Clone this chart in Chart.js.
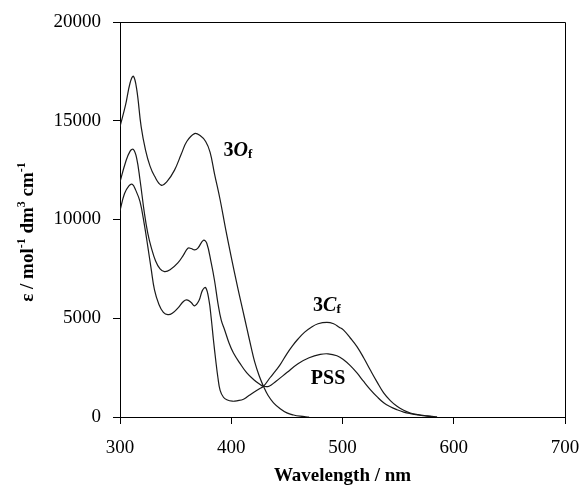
<!DOCTYPE html>
<html>
<head>
<meta charset="utf-8">
<script src="https://cdn.jsdelivr.net/npm/chart.js@4/dist/chart.umd.min.js"></script>
<style>
  body { margin: 0; background: #fff; }
  #wrap { width: 579px; height: 485px; }
</style>
</head>
<body>
<div id="wrap"><canvas id="spectra" width="579" height="485"></canvas></div>
<script>
// === DATA ===
const xTicks = [300, 400, 500, 600, 700];
const yTicks = [0, 5000, 10000, 15000, 20000];

// 3Of
const wl3Of = [300, 305, 309, 312, 315, 319, 323, 327, 331, 337, 342, 349, 355, 360, 367, 372, 377, 381, 385, 390, 395, 400, 406, 410, 414, 418, 421, 425, 429, 433, 438, 444, 450, 456, 462, 470];
const eps3Of = [14700, 15800, 16900, 17250, 16600, 14700, 13500, 12700, 12200, 11740, 11900, 12500, 13300, 13950, 14350, 14250, 13950, 13400, 12300, 11000, 9500, 8100, 6500, 5500, 4500, 3500, 2800, 2100, 1550, 1100, 720, 420, 210, 100, 40, 0];

// PSS
const wlPSS = [300, 305, 309, 312, 315, 318, 322, 325, 328, 332, 336, 340, 345, 352, 357, 361, 364, 367, 370, 375, 378, 382, 385, 388, 391, 394, 398, 402, 408, 414, 420, 425, 429, 434, 440, 450, 460, 470, 480, 487, 495, 501, 507, 513, 519, 525, 531, 537, 543, 549, 555, 561, 568, 576, 585];
const epsPSS = [11900, 12900, 13450, 13550, 13100, 12000, 10300, 9300, 8600, 7900, 7500, 7360, 7450, 7800, 8200, 8545, 8530, 8460, 8550, 8950, 8800, 7800, 6900, 5770, 4900, 4420, 3750, 3240, 2700, 2230, 1900, 1680, 1556, 1560, 1800, 2250, 2700, 3000, 3170, 3200, 3100, 2900, 2600, 2230, 1800, 1390, 1030, 720, 520, 370, 250, 170, 100, 40, 0];

// 3Cf
const wl3Cf = [300, 304, 308, 311, 314, 318, 322, 325, 328, 331, 335, 339, 343, 347, 352, 357, 360, 364, 367, 371, 374, 377, 380, 382, 384, 386, 388, 390, 393, 396, 401, 406, 411, 415, 420, 425, 429, 435, 440, 444, 450, 455, 460, 466, 472, 478, 486, 492, 497, 501, 507, 513, 519, 525, 531, 537, 543, 549, 555, 561, 568, 576, 585];
const eps3Cf = [10450, 11300, 11700, 11780, 11500, 10900, 9700, 8630, 7500, 6440, 5700, 5300, 5180, 5250, 5515, 5850, 5930, 5800, 5630, 5900, 6400, 6550, 5900, 5000, 3900, 2900, 2000, 1350, 1000, 870, 800, 830, 900, 1050, 1240, 1420, 1556, 2000, 2350, 2650, 3200, 3600, 3950, 4300, 4550, 4720, 4790, 4720, 4550, 4400, 4000, 3560, 3000, 2380, 1780, 1220, 830, 540, 340, 200, 120, 60, 0];

// curve labels: [wavelength, epsilon] of the text centre
const labelAt3Of = [406, 13500];
const labelAt3Cf = [486, 5650];
const labelAtPSS = [487, 1950];

const toPoints = (xs, ys) => xs.map((v, i) => ({ x: v, y: ys[i] }));

// texto com partes normais / sobrescritas / subscritas
function richWidth(ctx, parts) {
  let w = 0;
  parts.forEach(p => { ctx.font = p.font; w += ctx.measureText(p.t).width; });
  return w;
}
function drawRich(ctx, parts, cx, cy) {
  let x = cx - richWidth(ctx, parts) / 2;
  parts.forEach(p => {
    ctx.font = p.font;
    ctx.fillText(p.t, x, cy + (p.dy || 0));
    x += ctx.measureText(p.t).width;
  });
}

const serif = '"Liberation Serif", "Times New Roman", serif';

const decorPlugin = {
  id: 'decor',
  afterDraw(chart) {
    const { ctx, chartArea: a, scales: { x, y } } = chart;
    ctx.save();
    // moldura superior e direita
    ctx.strokeStyle = '#000';
    ctx.lineWidth = 1;
    ctx.beginPath();
    ctx.moveTo(a.left, Math.round(a.top) + 0.5);
    ctx.lineTo(Math.round(a.right) + 0.5, Math.round(a.top) + 0.5);
    ctx.lineTo(Math.round(a.right) + 0.5, a.bottom);
    ctx.stroke();

    ctx.fillStyle = '#000';
    ctx.textBaseline = 'middle';
    const b20 = 'bold 20px ' + serif;
    const bi20 = 'italic bold 20px ' + serif;
    const b13 = 'bold 13px ' + serif;

    drawRich(ctx, [
      { t: '3', font: b20 }, { t: 'O', font: bi20 }, { t: 'f', font: b13, dy: 4 }
    ], x.getPixelForValue(labelAt3Of[0]), y.getPixelForValue(labelAt3Of[1]));
    drawRich(ctx, [
      { t: '3', font: b20 }, { t: 'C', font: bi20 }, { t: 'f', font: b13, dy: 4 }
    ], x.getPixelForValue(labelAt3Cf[0]), y.getPixelForValue(labelAt3Cf[1]));
    drawRich(ctx, [{ t: 'PSS', font: b20 }],
      x.getPixelForValue(labelAtPSS[0]), y.getPixelForValue(labelAtPSS[1]));

    // titulos dos eixos
    ctx.textBaseline = 'alphabetic';
    const b19 = 'bold 19px ' + serif;
    const s12 = 'bold 12px ' + serif;
    drawRich(ctx, [{ t: 'Wavelength / nm', font: b19 }], (a.left + a.right) / 2, 481);

    ctx.translate(33, 232);
    ctx.rotate(-Math.PI / 2);
    drawRich(ctx, [
      { t: 'ε / mol', font: b19 }, { t: '-1', font: s12, dy: -8 },
      { t: ' dm', font: b19 }, { t: '3', font: s12, dy: -8 },
      { t: ' cm', font: b19 }, { t: '-1', font: s12, dy: -8 }
    ], 0, 0);
    ctx.restore();
  }
};

const lineStyle = {
  borderColor: '#1a1a1a',
  borderWidth: 1.2,
  pointRadius: 0,
  fill: false,
  tension: 0.4
};

new Chart(document.getElementById('spectra').getContext('2d'), {
  type: 'line',
  data: {
    datasets: [
      Object.assign({ label: '3Of', data: toPoints(wl3Of, eps3Of) }, lineStyle),
      Object.assign({ label: 'PSS', data: toPoints(wlPSS, epsPSS) }, lineStyle),
      Object.assign({ label: '3Cf', data: toPoints(wl3Cf, eps3Cf) }, lineStyle)
    ]
  },
  options: {
    responsive: false,
    animation: false,
    devicePixelRatio: 1,
    layout: { padding: { top: 22, right: 14, left: 0, bottom: 0 } },
    plugins: { legend: { display: false }, tooltip: { enabled: false } },
    scales: {
      x: {
        type: 'linear',
        min: xTicks[0],
        max: xTicks[xTicks.length - 1],
        afterBuildTicks: s => { s.ticks = xTicks.map(v => ({ value: v })); },
        afterFit: s => { s.height = 68; s.paddingLeft = 0; s.paddingRight = 0; },
        ticks: { color: '#000', font: { family: serif, size: 19 }, padding: 13, maxRotation: 0, callback: v => String(v) },
        grid: { drawOnChartArea: false, tickLength: 7, color: '#000' },
        border: { color: '#000', width: 1 }
      },
      y: {
        min: yTicks[0],
        max: yTicks[yTicks.length - 1],
        afterBuildTicks: s => { s.ticks = yTicks.map(v => ({ value: v })); },
        afterFit: s => { s.width = 120; s.paddingTop = 0; s.paddingBottom = 0; },
        ticks: { color: '#000', font: { family: serif, size: 19 }, padding: 12, callback: v => String(v) },
        grid: { drawOnChartArea: false, tickLength: 7, color: '#000' },
        border: { color: '#000', width: 1 }
      }
    }
  },
  plugins: [decorPlugin]
});
</script>
</body>
</html>
